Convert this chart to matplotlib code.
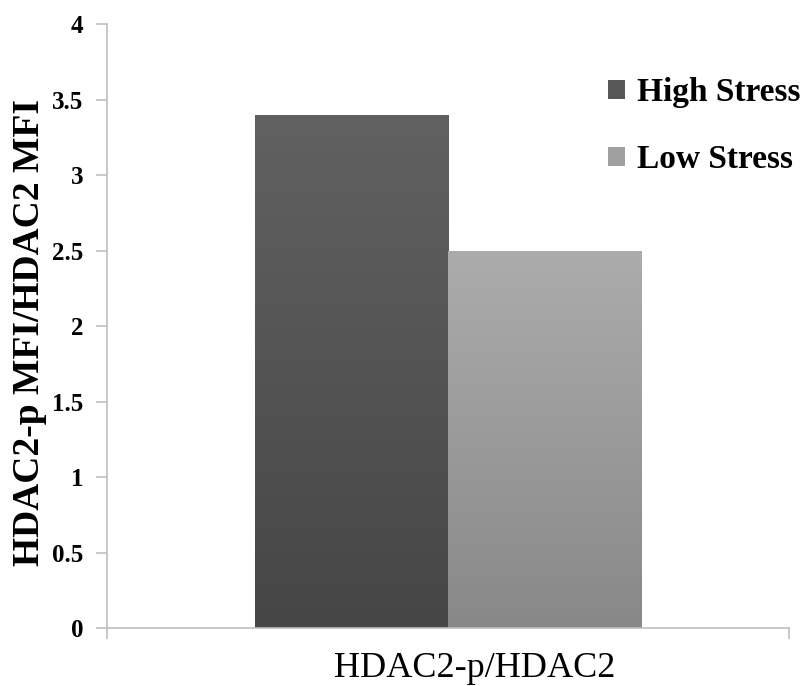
import numpy as np
import matplotlib
matplotlib.use("Agg")
import matplotlib.pyplot as plt
from matplotlib.patches import Rectangle
from matplotlib.colors import LinearSegmentedColormap

category = "HDAC2-p/HDAC2"
series = ["High Stress", "Low Stress"]
values = [3.4, 2.5]
# (top colour, bottom colour) for each bar's vertical gradient
gradients = [("#616161", "#464646"), ("#acacac", "#888888")]
legend_colors = ["#575757", "#a0a0a0"]
yticks = [0, 0.5, 1, 1.5, 2, 2.5, 3, 3.5, 4]
ytick_labels = ["0", "0.5", "1", "1.5", "2", "2.5", "3", "3.5", "4"]

plt.rcParams["font.family"] = ["Liberation Serif", "DejaVu Serif"]

fig = plt.figure(figsize=(8.12, 6.86), dpi=100)
ax = fig.add_axes([0.1318, 0.0845, 0.8399, 0.8805])

bar_w = 0.283
positions = [-bar_w / 2, bar_w / 2]
for x, v, (ctop, cbot), name in zip(positions, values, gradients, series):
    cmap = LinearSegmentedColormap.from_list(name, [cbot, ctop])
    grad = np.linspace(0, 1, 256).reshape(-1, 1)
    im = ax.imshow(grad, cmap=cmap, aspect="auto", origin="lower",
                   extent=[x - bar_w / 2, x + bar_w / 2, 0, v], zorder=2)
    clip = Rectangle((x - bar_w / 2, 0), bar_w, v, transform=ax.transData,
                     facecolor="none", edgecolor="none")
    ax.add_patch(clip)
    im.set_clip_path(clip)

ax.set_xlim(-0.5, 0.5)
ax.set_ylim(0, 4)
ax.set_yticks(yticks)
ax.set_yticklabels(ytick_labels, fontsize=18, fontweight="bold")
ax.set_xticks([-0.5, 0.5])
ax.set_xticklabels([])
ax.tick_params(axis="y", direction="out", length=8, width=1.2, color="#bfbfbf", pad=9)
ax.tick_params(axis="x", direction="out", length=8, width=1.2, color="#bfbfbf")

for side in ["top", "right"]:
    ax.spines[side].set_visible(False)
for side in ["left", "bottom"]:
    ax.spines[side].set_color("#bfbfbf")
    ax.spines[side].set_linewidth(1.2)

ax.set_ylabel("HDAC2-p MFI/HDAC2 MFI", fontsize=27, fontweight="bold")
ax.yaxis.set_label_coords(-0.088, 0.49)
ax.set_xlabel(category, fontsize=26)
ax.xaxis.label.set_verticalalignment("top")
ax.xaxis.set_label_coords(0.539, -0.04)

# legend
handles = [Rectangle((0, 0), 1, 1, facecolor=c, edgecolor="none") for c in legend_colors]
leg = ax.legend(handles, series, loc="upper left", bbox_to_anchor=(0.734, 0.912),
                frameon=False, prop={"size": 24, "weight": "bold"},
                handlelength=0.52, handleheight=0.52, handletextpad=0.36,
                labelspacing=1.08, borderaxespad=0, borderpad=0)

fig.savefig("out.png", dpi=100, facecolor="white")
